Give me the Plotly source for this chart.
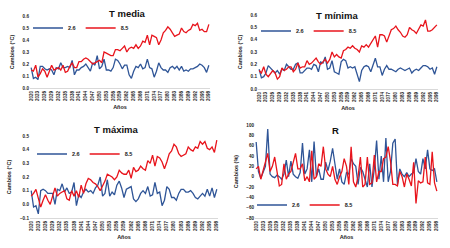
import plotly.graph_objects as go

years = list(range(2020, 2099))
tick_years = list(range(2020, 2099, 3))

tmedia_26 = [0.17, 0.08, 0.09, 0.07, 0.18, 0.18, 0.16, 0.15, 0.16, 0.15,
             0.11, 0.17, 0.16, 0.21, 0.17, 0.17, 0.18, 0.17, 0.23, 0.11,
             0.15, 0.15, 0.17, 0.18, 0.20, 0.17, 0.14, 0.21, 0.19, 0.27,
             0.16, 0.18, 0.24, 0.15, 0.15, 0.14, 0.17, 0.24, 0.23, 0.20,
             0.16, 0.19, 0.19, 0.11, 0.08, 0.14, 0.18, 0.17, 0.20, 0.16,
             0.17, 0.24, 0.17, 0.16, 0.09, 0.14, 0.21, 0.17, 0.15, 0.15,
             0.13, 0.17, 0.18, 0.16, 0.18, 0.15, 0.18, 0.14, 0.15, 0.14,
             0.16, 0.16, 0.17, 0.18, 0.20, 0.19, 0.17, 0.13, 0.19]
tmedia_85 = [0.15, 0.14, 0.19, 0.09, 0.12, 0.16, 0.14, 0.09, 0.14, 0.19,
             0.15, 0.16, 0.17, 0.15, 0.19, 0.13, 0.14, 0.18, 0.21, 0.17,
             0.17, 0.22, 0.22, 0.24, 0.25, 0.24, 0.22, 0.20, 0.21, 0.22,
             0.23, 0.21, 0.30, 0.29, 0.28, 0.27, 0.27, 0.32, 0.32, 0.31,
             0.33, 0.35, 0.30, 0.33, 0.34, 0.33, 0.36, 0.33, 0.35, 0.39,
             0.38, 0.44, 0.36, 0.44, 0.43, 0.42, 0.36, 0.40, 0.46, 0.48,
             0.51, 0.49, 0.46, 0.43, 0.44, 0.45, 0.50, 0.47, 0.46, 0.48,
             0.49, 0.53, 0.52, 0.54, 0.48, 0.49, 0.47, 0.47, 0.53]

tmin_26 = [0.16, 0.09, 0.10, 0.13, 0.19, 0.17, 0.15, 0.13, 0.15, 0.12,
           0.16, 0.15, 0.20, 0.18, 0.16, 0.16, 0.20, 0.21, 0.13, 0.13,
           0.15, 0.17, 0.17, 0.16, 0.20, 0.19, 0.14, 0.22, 0.21, 0.26,
           0.16, 0.17, 0.23, 0.14, 0.13, 0.12, 0.22, 0.24, 0.23, 0.17,
           0.18, 0.17, 0.18, 0.11, 0.06, 0.15, 0.18, 0.19, 0.18, 0.14,
           0.20, 0.25, 0.18, 0.18, 0.11, 0.16, 0.19, 0.16, 0.16, 0.15,
           0.14, 0.16, 0.17, 0.16, 0.15, 0.16, 0.17, 0.13, 0.15, 0.16,
           0.15, 0.17, 0.19, 0.19, 0.18, 0.16, 0.17, 0.12, 0.18]
tmin_85 = [0.15, 0.13, 0.18, 0.12, 0.10, 0.13, 0.15, 0.13, 0.08, 0.10,
           0.17, 0.15, 0.16, 0.18, 0.18, 0.14, 0.16, 0.21, 0.17, 0.18,
           0.18, 0.23, 0.20, 0.21, 0.23, 0.25, 0.22, 0.20, 0.22, 0.24,
           0.21, 0.24, 0.30, 0.26, 0.28, 0.26, 0.25, 0.31, 0.32, 0.34,
           0.33, 0.35, 0.33, 0.32, 0.30, 0.35, 0.34, 0.36, 0.34, 0.37,
           0.40, 0.43, 0.34, 0.44, 0.44, 0.43, 0.38, 0.44, 0.48, 0.49,
           0.51, 0.48, 0.46, 0.43, 0.42, 0.44, 0.50, 0.48, 0.47, 0.45,
           0.48, 0.52, 0.51, 0.56, 0.47, 0.47, 0.48, 0.50, 0.52]

tmax_26 = [0.10, -0.02, -0.01, -0.07, 0.10, 0.11, 0.10, 0.08, 0.08, 0.08,
           0.00, 0.11, 0.10, 0.15, 0.09, 0.12, 0.08, 0.09, 0.16, -0.01,
           0.07, 0.05, 0.09, 0.11, 0.09, 0.10, 0.08, 0.12, 0.14, 0.20,
           0.06, 0.08, 0.18, 0.06, 0.09, 0.07, 0.14, 0.17, 0.12, 0.05,
           0.11, 0.12, 0.13, 0.04, 0.02, 0.04, 0.08, 0.10, 0.08, 0.13,
           0.06, 0.07, 0.16, 0.08, 0.09, -0.01, 0.03, 0.13, 0.11, 0.05,
           0.05, 0.03, 0.08, 0.11, 0.11, 0.09, 0.09, 0.10, 0.08, 0.05,
           0.04, 0.06, 0.08, 0.06, 0.11, 0.06, 0.12, 0.05, 0.11]
tmax_85 = [0.06, 0.08, 0.11, 0.05, -0.02, 0.03, 0.07, 0.03, 0.00, 0.06,
           0.12, 0.06, 0.08, 0.09, 0.10, 0.04, 0.03, 0.10, 0.06, 0.10,
           0.05, 0.14, 0.08, 0.15, 0.19, 0.18, 0.16, 0.15, 0.13, 0.10,
           0.13, 0.17, 0.22, 0.21, 0.20, 0.18, 0.20, 0.25, 0.23, 0.22,
           0.22, 0.25, 0.19, 0.27, 0.24, 0.25, 0.28, 0.26, 0.25, 0.32,
           0.30, 0.36, 0.28, 0.35, 0.34, 0.31, 0.26, 0.31, 0.37, 0.39,
           0.44, 0.42, 0.37, 0.35, 0.36, 0.37, 0.42, 0.40, 0.39, 0.42,
           0.41, 0.46, 0.44, 0.46, 0.41, 0.40, 0.42, 0.38, 0.47]

r_26 = [67, 10, -3, 10, 20, 92, 5, 0, -2, 3,
        0, -5, 5, 32, 0, 30, 5, 0, -3, 8,
        65, 5, 15, 52, -10, 68, 0, 15, -5, -5,
        28, 12, 30, 55, 20, -5, 15, -10, -15, 8,
        5, 35, 25, 20, -15, 18, 10, -5, -20, 25,
        -20, 15, 70, -5, 40, -10, 75, -10, 10, 65,
        73, -15, 15, 5, 0, 8, 0, 5, 8, 35,
        10, 5, 35, 15, 52, 15, 12, 15, -10]
r_85 = [15, 20, -5, 10, 30, 45, 10, 20, 38, 10,
        -18, -15, 25, -5, 5, 10, 30, 45, 15, 15,
        25, -8, 0, -10, 50, -5, 0, 25, 20, 58,
        15, 5, 0, 20, -5, -15, 0, 10, 35, 20,
        -15, 58, -10, -20, 0, 38, -20, -15, 38, -15,
        -12, 42, -10, 10, 10, 35, 38, 58, 30, -15,
        -15, -18, 10, 0, -20, 5, -5, -18, 28, -52,
        -8, -12, -10, 38, -12, -15, 48, -12, -28]

BLUE = "#2F5597"
RED = "#E8141C"
FONT = "Liberation Sans"

panels = [
    dict(title="T media", s26=tmedia_26, s85=tmedia_85, ytitle="Cambios (°C)",
         yrange=[0, 0.6], dtick=0.1, fmt=".1f",
         xdom=[30/450, 210/450], ydom=[1-88/248, 1-16/248],
         leg=(28/450, 1-28/248), tpos=(127/450, 1-14/248)),
    dict(title="T mínima", s26=tmin_26, s85=tmin_85, ytitle="Cambios (°C)",
         yrange=[0, 0.6], dtick=0.1, fmt=".1f",
         xdom=[258/450, 438/450], ydom=[1-89/248, 1-15/248],
         leg=(256/450, 1-31/248), tpos=(337/450, 1-15/248)),
    dict(title="T máxima", s26=tmax_26, s85=tmax_85, ytitle="Cambios (°C)",
         yrange=[-0.1, 0.5], dtick=0.1, fmt=".1f",
         xdom=[30/450, 218/450], ydom=[1-218/248, 1-136/248],
         leg=(32/450, 1-154/248), tpos=(116/450, 1-129/248)),
    dict(title="R", s26=r_26, s85=r_85, ytitle="Cambios (%)",
         yrange=[-80, 100], dtick=20, fmt="d",
         xdom=[255/450, 438/450], ydom=[1-218/248, 1-125/248],
         leg=(252/450, 1-205/248), tpos=(335/450, 1-130/248)),
]

fig = go.Figure()
layout = dict(
    template="none",
    width=450, height=248, margin=dict(l=0, r=0, t=0, b=0, autoexpand=False),
    paper_bgcolor="white", plot_bgcolor="white",
    font=dict(family=FONT, size=5, color="#222222"),
    showlegend=True, annotations=[],
)

for i, p in enumerate(panels, start=1):
    sfx = "" if i == 1 else str(i)
    legname = "legend" if i == 1 else f"legend{i}"
    for name, vals, col in (("2.6", p["s26"], BLUE), ("8.5", p["s85"], RED)):
        fig.add_trace(go.Scatter(
            x=years, y=vals, mode="lines", name=name,
            line=dict(color=col, width=1.3),
            xaxis=f"x{sfx}", yaxis=f"y{sfx}", legend=legname,
        ))
    layout[f"xaxis{sfx}"] = dict(
        domain=p["xdom"], anchor=f"y{sfx}", range=[2019.5, 2098.5],
        tickmode="array", tickvals=tick_years, ticktext=[str(t) for t in tick_years],
        tickangle=-90, tickfont=dict(size=4.6, family=FONT, weight="bold"),
        showgrid=False, zeroline=False, showline=True, linecolor="#D9D9D9", linewidth=1,
        ticks="", ticklen=0, automargin=True,
        title=dict(text="Años", font=dict(size=5.5, family=FONT, weight="bold"), standoff=5),
    )
    layout[f"yaxis{sfx}"] = dict(
        domain=p["ydom"], anchor=f"x{sfx}", range=p["yrange"], dtick=p["dtick"],
        tickformat=p["fmt"], tickfont=dict(size=4.6, family=FONT, weight="bold"),
        showgrid=False, zeroline=False, showline=False, ticks="", automargin=True,
        title=dict(text=p["ytitle"], font=dict(size=5.5, family=FONT, weight="bold"), standoff=7),
    )
    layout[legname] = dict(
        x=p["leg"][0], y=p["leg"][1], xanchor="left", yanchor="middle",
        orientation="h", bgcolor="rgba(0,0,0,0)", itemwidth=30,
        font=dict(size=5.5, family=FONT, weight="bold"),
        tracegroupgap=0,
    )
    layout["annotations"].append(dict(
        text=p["title"], x=p["tpos"][0], y=p["tpos"][1], xref="paper", yref="paper",
        xanchor="center", yanchor="middle", showarrow=False,
        font=dict(size=9.5, family=FONT, weight="bold", color="#111111"),
    ))

fig.update_layout(**layout)
fig.write_html("out.html",
               config={"displayModeBar": False},
               post_script="document.body.style.margin='0';document.body.style.overflow='hidden';")
